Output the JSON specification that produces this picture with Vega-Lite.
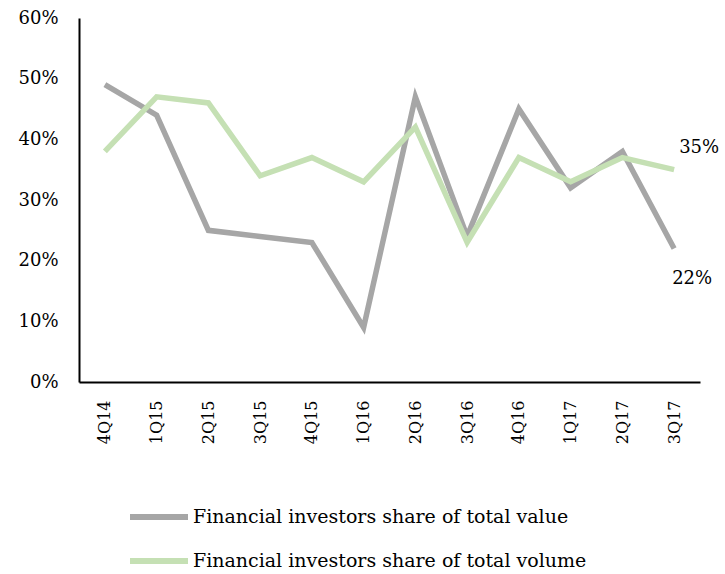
{
  "$schema": "https://vega.github.io/schema/vega-lite/v6.json",
  "autosize": {"type": "none"},
  "width": 621,
  "height": 364,
  "padding": {"left": 79, "top": 18, "right": 25, "bottom": 192},
  "background": "white",
  "config": {
    "view": {"stroke": null},
    "font": "DejaVu Serif"
  },
  "data": {
    "values": [
      {"q": "4Q14", "series": "Financial investors share of total value", "v": 0.49},
      {"q": "1Q15", "series": "Financial investors share of total value", "v": 0.44},
      {"q": "2Q15", "series": "Financial investors share of total value", "v": 0.25},
      {"q": "3Q15", "series": "Financial investors share of total value", "v": 0.24},
      {"q": "4Q15", "series": "Financial investors share of total value", "v": 0.23},
      {"q": "1Q16", "series": "Financial investors share of total value", "v": 0.09},
      {"q": "2Q16", "series": "Financial investors share of total value", "v": 0.47},
      {"q": "3Q16", "series": "Financial investors share of total value", "v": 0.24},
      {"q": "4Q16", "series": "Financial investors share of total value", "v": 0.45},
      {"q": "1Q17", "series": "Financial investors share of total value", "v": 0.32},
      {"q": "2Q17", "series": "Financial investors share of total value", "v": 0.38},
      {"q": "3Q17", "series": "Financial investors share of total value", "v": 0.22, "label": "22%"},
      {"q": "4Q14", "series": "Financial investors share of total volume", "v": 0.38},
      {"q": "1Q15", "series": "Financial investors share of total volume", "v": 0.47},
      {"q": "2Q15", "series": "Financial investors share of total volume", "v": 0.46},
      {"q": "3Q15", "series": "Financial investors share of total volume", "v": 0.34},
      {"q": "4Q15", "series": "Financial investors share of total volume", "v": 0.37},
      {"q": "1Q16", "series": "Financial investors share of total volume", "v": 0.33},
      {"q": "2Q16", "series": "Financial investors share of total volume", "v": 0.42},
      {"q": "3Q16", "series": "Financial investors share of total volume", "v": 0.23},
      {"q": "4Q16", "series": "Financial investors share of total volume", "v": 0.37},
      {"q": "1Q17", "series": "Financial investors share of total volume", "v": 0.33},
      {"q": "2Q17", "series": "Financial investors share of total volume", "v": 0.37},
      {"q": "3Q17", "series": "Financial investors share of total volume", "v": 0.35, "label": "35%"}
    ]
  },
  "encoding": {
    "x": {
      "field": "q", "type": "ordinal", "sort": null,
      "scale": {"type": "point", "padding": 0.5},
      "axis": {
        "title": null, "labelAngle": -90, "labelFontSize": 16, "labelColor": "black",
        "labelFont": "DejaVu Serif", "ticks": false, "labelPadding": 18,
        "domainColor": "black", "domainWidth": 2, "grid": false, "labelOverlap": false
      }
    },
    "y": {
      "field": "v", "type": "quantitative",
      "scale": {"domain": [0, 0.6], "nice": false},
      "axis": {
        "title": null, "format": ".0%", "values": [0, 0.1, 0.2, 0.3, 0.4, 0.5, 0.6],
        "labelFontSize": 18, "labelColor": "black", "labelFont": "DejaVu Serif",
        "ticks": false, "labelPadding": 21, "domainColor": "black", "domainWidth": 2, "grid": false,
        "labelOverlap": false
      }
    }
  },
  "layer": [
    {
      "mark": {"type": "line", "strokeWidth": 5.5},
      "encoding": {
        "color": {
          "field": "series", "type": "nominal",
          "scale": {"domain": ["Financial investors share of total value", "Financial investors share of total volume"], "range": ["#a6a6a6", "#c5e0b4"]},
          "legend": {
            "title": null, "orient": "none", "legendX": 48, "legendY": 467,
            "symbolType": "stroke", "symbolSize": 3364, "symbolStrokeWidth": 6,
            "labelFontSize": 19, "labelColor": "black", "labelFont": "DejaVu Serif",
            "labelOffset": 2, "rowPadding": -31, "labelLimit": 600, "direction": "vertical"
          }
        }
      }
    },
    {
      "transform": [{"filter": "datum.label == '35%'"}],
      "mark": {"type": "text", "fontSize": 18, "color": "black", "font": "DejaVu Serif", "align": "left", "baseline": "middle", "dx": 5, "dy": -22},
      "encoding": {"text": {"field": "label"}}
    },
    {
      "transform": [{"filter": "datum.label == '22%'"}],
      "mark": {"type": "text", "fontSize": 18, "color": "black", "font": "DejaVu Serif", "align": "left", "baseline": "middle", "dx": -2, "dy": 30},
      "encoding": {"text": {"field": "label"}}
    }
  ]
}
